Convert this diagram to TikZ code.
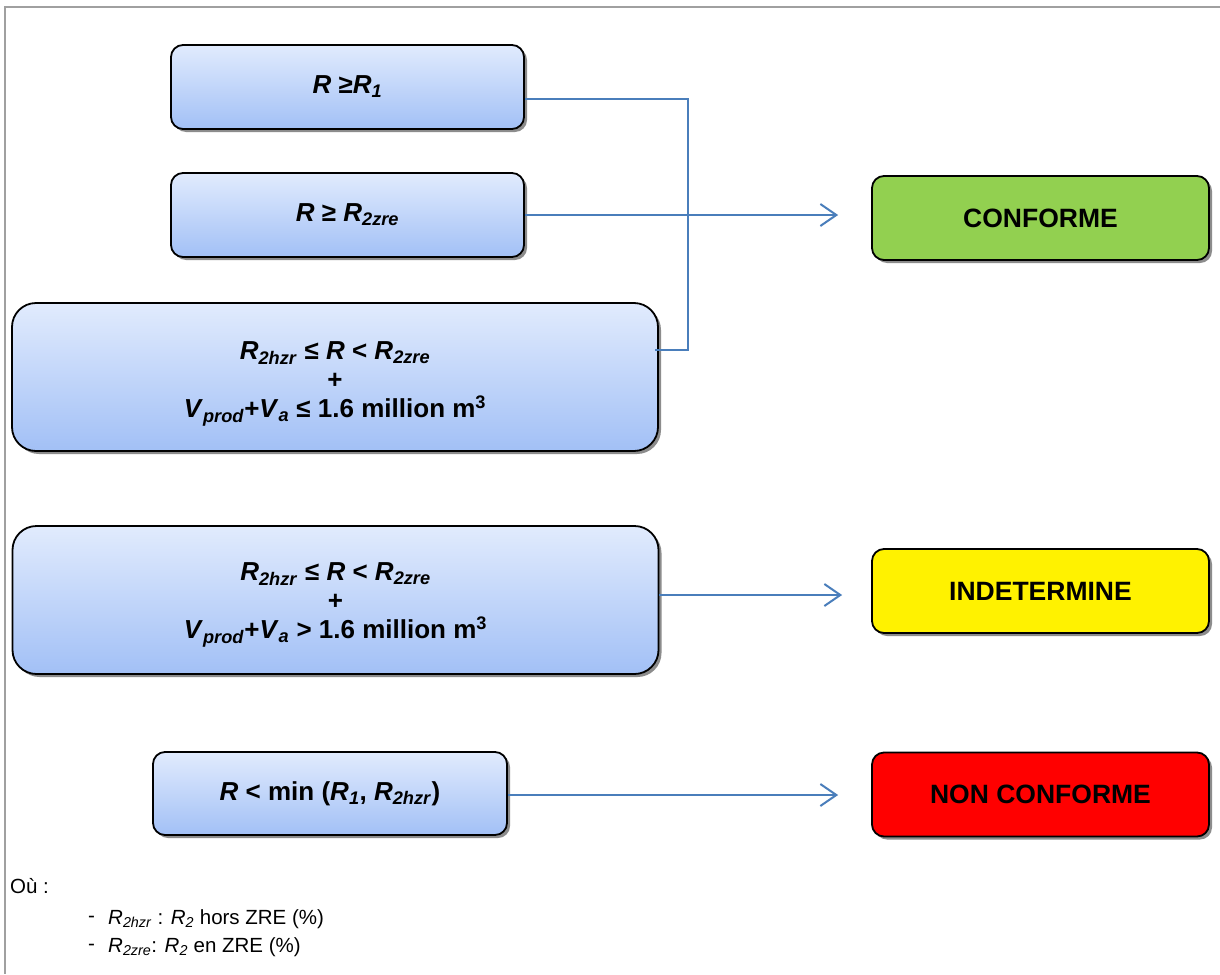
\documentclass[tikz,border=0pt]{standalone}
\usepackage{fontspec}
\setmainfont{Liberation Sans}
\usetikzlibrary{shadows,arrows.meta,calc}
\definecolor{lineblue}{HTML}{4A7EBB}
\definecolor{btop}{HTML}{E1EBFD}
\definecolor{bbot}{HTML}{A2C0F6}
\definecolor{okgreen}{HTML}{92D050}
\definecolor{frame}{HTML}{A0A0A0}
\begin{document}
\begin{tikzpicture}[x=1pt,y=-1pt,
  shad/.style={drop shadow={shadow xshift=3pt,shadow yshift=-3pt,fill=black!50,opacity=0.9}},
  cond/.style={draw=black, line width=1.8pt, rounded corners=12pt, top color=btop, bottom color=bbot,
    shad, align=center, inner sep=0pt, font=\fontsize{26}{29}\selectfont\bfseries},
  bigcond/.style={cond, rounded corners=24pt, minimum width=646pt, minimum height=148pt},
  condtext/.style={align=center, inner sep=0pt, font=\fontsize{26}{29}\selectfont\bfseries},
  result/.style={draw=black, line width=1.8pt, rounded corners=12pt, minimum width=337pt,
    minimum height=84pt, shad, inner sep=0pt, font=\fontsize{26.5}{30}\selectfont\bfseries},
  conn/.style={draw=lineblue, line width=2pt},
  arr/.style={conn, -{Straight Barb[length=16pt,width=22pt]}},
  legend/.style={anchor=west, inner sep=0pt, font=\fontsize{20.5}{24}\selectfont}]
\useasboundingbox (0,0) rectangle (1220,974);
\fill[white] (0,0) rectangle (1220,974);
\draw[frame, line width=1.3pt] (1220,7) -- (5,7) -- (5,974);

\node[cond, minimum width=353pt, minimum height=84pt] (b1) at (347.5,87)
  {\textit{R} ≥\textit{R}\textsubscript{\textit{1}}};
\node[cond, minimum width=353pt, minimum height=84pt] (b2) at (347.5,215)
  {\textit{R} ≥ \textit{R}\textsubscript{\textit{2zre}}};
\node[bigcond] (b3) at (335,377) {};
\node[condtext] (b3t) at ($(b3.center)+(0,7)$)
  {\textit{R}\textsubscript{\textit{2hzr}} ≤ \textit{R} < \textit{R}\textsubscript{\textit{2zre}}\\
   +\\
   \textit{V}\textsubscript{\textit{prod}}+\textit{V}\textsubscript{\textit{a}} ≤ 1.6 million m\textsuperscript{3}};
\node[bigcond] (b4) at (335.5,600) {};
\node[condtext] (b4t) at ($(b4.center)+(0,5)$)
  {\textit{R}\textsubscript{\textit{2hzr}} ≤ \textit{R} < \textit{R}\textsubscript{\textit{2zre}}\\
   +\\
   \textit{V}\textsubscript{\textit{prod}}+\textit{V}\textsubscript{\textit{a}} > 1.6 million m\textsuperscript{3}};
\node[cond, minimum width=354pt, minimum height=83pt] (b5) at (330,793.5)
  {\textit{R} < min (\textit{R}\textsubscript{\textit{1}}, \textit{R}\textsubscript{\textit{2hzr}})};

\node[result, fill=okgreen] (c1) at (1040.5,218) {CONFORME};
\node[result, fill=yellow] (c2) at (1040.5,591) {INDETERMINE};
\node[result, fill=red] (c3) at (1040.5,794.5) {NON CONFORME};

\coordinate (j1) at (688,99);
\coordinate (j3) at (688,350);
\coordinate (t1) at ($(c1.west)+(-33,0)$);
\coordinate (t2) at ($(c2.west)+(-29,0)$);
\coordinate (t3) at ($(c3.west)+(-33,0)$);
\coordinate (s1) at ($(b1.east)+(0,12)$);
\coordinate (s3) at ($(b3.east)+(-4,-27)$);
\coordinate (s4) at ($(b4.east)+(0,-5)$);
\coordinate (s5) at ($(b5.east)+(0,1.5)$);

\draw[conn] (s1) -- (j1) -- (j3) -- (s3);
\draw[arr] (b2.east) -- (b2.east -| t1);
\draw[arr] (s4) -- (s4 -| t2);
\draw[arr] (s5) -- (s5 -| t3);

\node[legend] (ou) at (10,886) {Où :};
\node[legend] (d1) at (88,919) {-};
\node[legend] (l1) at (108,919) {\textit{R}\textsubscript{\textit{2hzr}} : \textit{R}\textsubscript{\textit{2}} hors ZRE (\%)};
\node[legend] (d2) at (88,947) {-};
\node[legend] (l2) at (108,947) {\textit{R}\textsubscript{\textit{2zre}}: \textit{R}\textsubscript{\textit{2}} en ZRE (\%)};
\end{tikzpicture}
\end{document}
